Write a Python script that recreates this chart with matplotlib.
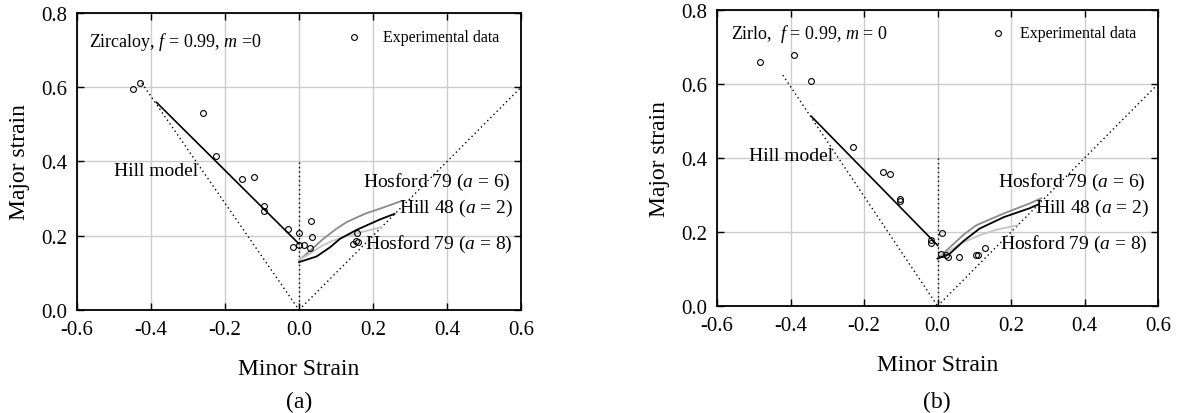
import matplotlib
matplotlib.use('Agg')
import matplotlib.pyplot as plt

plt.rcParams['font.family'] = ['Liberation Serif', 'DejaVu Serif']
plt.rcParams['mathtext.fontset'] = 'custom'
plt.rcParams['mathtext.rm'] = 'Liberation Serif'
plt.rcParams['mathtext.it'] = 'Liberation Serif:italic'
plt.rcParams['axes.unicode_minus'] = False

# ---- panel (a): Zircaloy ----
zirc_exp_x = [-0.449, -0.430, -0.259, -0.225, -0.155, -0.123, -0.094, -0.096, -0.029, 0.000,
              0.032, 0.035, -0.016, 0.001, 0.0135, 0.030, 0.156, 0.147, 0.159, 0.153]
zirc_exp_y = [0.596, 0.611, 0.530, 0.414, 0.353, 0.357, 0.279, 0.268, 0.217, 0.208,
              0.239, 0.197, 0.170, 0.176, 0.176, 0.168, 0.208, 0.178, 0.183, 0.186]
zirc_hill_left_x = [-0.385, 0.0]
zirc_hill_left_y = [0.559, 0.178]
zirc_dot_left_x = [-0.425, 0.0]
zirc_dot_left_y = [0.611, 0.0]
zirc_h48_x = [0.0, 0.047, 0.084, 0.111, 0.156, 0.219, 0.258]
zirc_h48_y = [0.129, 0.144, 0.169, 0.192, 0.216, 0.244, 0.259]
zirc_hf6_x = [0.0, 0.03, 0.066, 0.10, 0.129, 0.18, 0.219, 0.278]
zirc_hf6_y = [0.133, 0.160, 0.192, 0.218, 0.237, 0.260, 0.273, 0.294]
zirc_hf8_x = [0.0, 0.03, 0.06, 0.09, 0.12, 0.17, 0.223]
zirc_hf8_y = [0.135, 0.152, 0.172, 0.186, 0.196, 0.210, 0.223]

# ---- panel (b): Zirlo ----
zirlo_exp_x = [-0.484, -0.391, -0.345, -0.230, -0.149, -0.129, -0.101, -0.103, -0.017, -0.019,
               0.013, 0.010, 0.024, 0.028, 0.058, 0.105, 0.111, 0.128]
zirlo_exp_y = [0.660, 0.677, 0.607, 0.431, 0.363, 0.357, 0.289, 0.283, 0.177, 0.169,
               0.197, 0.141, 0.137, 0.132, 0.132, 0.139, 0.137, 0.158]
zirlo_hill_left_x = [-0.344, 0.0]
zirlo_hill_left_y = [0.513, 0.164]
zirlo_dot_left_x = [-0.421, 0.0]
zirlo_dot_left_y = [0.624, 0.0]
zirlo_h48_x = [0.0, 0.033, 0.07, 0.114, 0.18, 0.25, 0.273]
zirlo_h48_y = [0.128, 0.141, 0.175, 0.209, 0.240, 0.264, 0.274]
zirlo_hf6_x = [0.0, 0.033, 0.07, 0.105, 0.18, 0.25, 0.282]
zirlo_hf6_y = [0.128, 0.158, 0.192, 0.218, 0.250, 0.277, 0.291]
zirlo_hf8_x = [0.0, 0.033, 0.07, 0.114, 0.16, 0.218]
zirlo_hf8_y = [0.128, 0.150, 0.172, 0.191, 0.206, 0.218]

# shared reference lines
vert_x = [0.0, 0.0]
vert_y = [0.0, 0.4]
right_x = [0.0, 0.6]
right_y = [0.0, 0.6]

ticks_x = [-0.6, -0.4, -0.2, 0.0, 0.2, 0.4, 0.6]
ticks_y = [0.0, 0.2, 0.4, 0.6, 0.8]

fig = plt.figure(figsize=(11.78, 4.14), dpi=100)
ax_a = fig.add_axes([0.0654, 0.2488, 0.3769, 0.7174])
ax_b = fig.add_axes([0.6087, 0.2585, 0.3744, 0.7150])

dots = (0, (1, 2.2))


def draw_panel(ax, ex, ey, hlx, hly, dlx, dly, h48x, h48y, hf6x, hf6y, hf8x, hf8y):
    ax.plot(dlx, dly, color='black', linestyle=dots, linewidth=1)
    ax.plot(vert_x, vert_y, color='black', linestyle=dots, linewidth=1)
    ax.plot(right_x, right_y, color='black', linestyle=dots, linewidth=1)
    ax.plot(hlx, hly, color='black', linewidth=1.2)
    ax.plot(hf6x, hf6y, color='#8a8a8a', linewidth=1.3)
    ax.plot(hf8x, hf8y, color='#c4c4c4', linewidth=1.3)
    ax.plot(h48x, h48y, color='black', linewidth=1.3)
    ax.plot(ex, ey, 'o', markersize=4.2, markerfacecolor='none',
            markeredgecolor='black', markeredgewidth=0.8)
    ax.set_xlim(-0.6, 0.6)
    ax.set_ylim(0, 0.8)
    ax.set_xticks(ticks_x)
    ax.set_yticks(ticks_y)
    ax.set_xticklabels([f'{t:.1f}' for t in ticks_x])
    ax.set_yticklabels([f'{t:.1f}' for t in ticks_y])
    ax.grid(True, color='#cccccc', linewidth=1)
    ax.set_axisbelow(True)
    ax.tick_params(direction='in', length=5, width=1, top=True, right=True,
                   labelsize=15, pad=7)
    for s in ax.spines.values():
        s.set_linewidth(1.3)
    ax.set_xlabel('Minor Strain', fontsize=17, labelpad=14)
    ax.set_ylabel('Major strain', fontsize=17, labelpad=8)


draw_panel(ax_a, zirc_exp_x, zirc_exp_y, zirc_hill_left_x, zirc_hill_left_y,
           zirc_dot_left_x, zirc_dot_left_y, zirc_h48_x, zirc_h48_y,
           zirc_hf6_x, zirc_hf6_y, zirc_hf8_x, zirc_hf8_y)
draw_panel(ax_b, zirlo_exp_x, zirlo_exp_y, zirlo_hill_left_x, zirlo_hill_left_y,
           zirlo_dot_left_x, zirlo_dot_left_y, zirlo_h48_x, zirlo_h48_y,
           zirlo_hf6_x, zirlo_hf6_y, zirlo_hf8_x, zirlo_hf8_y)

# annotations (a)
ax_a.text(-0.568, 0.725, 'Zircaloy, $f$ = 0.99, $m$ =0', fontsize=13, va='center')
ax_a.plot([0.149], [0.735], 'o', markersize=4.2, markerfacecolor='none',
          markeredgecolor='black', markeredgewidth=0.8)
ax_a.text(0.226, 0.735, 'Experimental data', fontsize=11.5, va='center')
ax_a.text(-0.273, 0.376, 'Hill model', fontsize=14, ha='right', va='center')
ax_a.text(0.573, 0.345, 'Hosford 79 ($a$ = 6)', fontsize=14, ha='right', va='center')
ax_a.text(0.578, 0.276, 'Hill 48 ($a$ = 2)', fontsize=14, ha='right', va='center')
ax_a.text(0.578, 0.178, 'Hosford 79 ($a$ = 8)', fontsize=14, ha='right', va='center')

# annotations (b)
ax_b.text(-0.561, 0.739, 'Zirlo,  $f$ = 0.99, $m$ = 0', fontsize=13, va='center')
ax_b.plot([0.164], [0.737], 'o', markersize=4.2, markerfacecolor='none',
          markeredgecolor='black', markeredgewidth=0.8)
ax_b.text(0.223, 0.737, 'Experimental data', fontsize=11.5, va='center')
ax_b.text(-0.285, 0.408, 'Hill model', fontsize=14, ha='right', va='center')
ax_b.text(0.565, 0.337, 'Hosford 79 ($a$ = 6)', fontsize=14, ha='right', va='center')
ax_b.text(0.576, 0.266, 'Hill 48 ($a$ = 2)', fontsize=14, ha='right', va='center')
ax_b.text(0.571, 0.168, 'Hosford 79 ($a$ = 8)', fontsize=14, ha='right', va='center')

fig.text(0.254, 0.029, '(a)', fontsize=17, ha='center', va='center')
fig.text(0.795, 0.029, '(b)', fontsize=17, ha='center', va='center')

fig.savefig('out.png', dpi=100)
